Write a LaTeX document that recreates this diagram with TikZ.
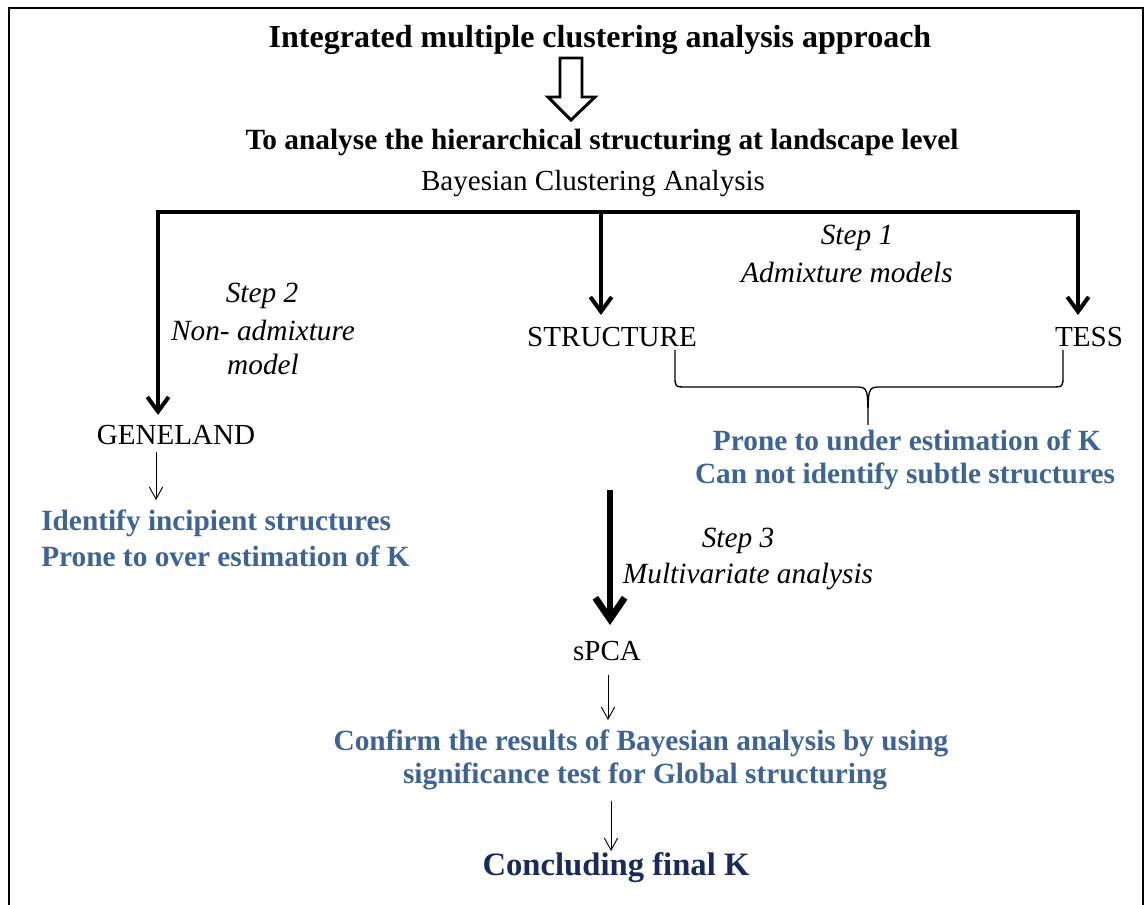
\documentclass[tikz,border=0pt]{standalone}
\usepackage{fontspec}
\setmainfont{Liberation Serif}
\usetikzlibrary{arrows.meta}
\definecolor{stepblue}{HTML}{3E6496}
\definecolor{navyk}{HTML}{1A2A5E}
\begin{document}
\begin{tikzpicture}[x=0.75pt,y=-0.75pt,
  txt/.style={inner sep=0pt, font=\fontsize{21.8}{26}\selectfont},
  boldtxt/.style={inner sep=0pt, font=\fontsize{22}{26}\selectfont\bfseries},
  bluetxt/.style={inner sep=0pt, font=\fontsize{22}{26}\selectfont\bfseries, text=stepblue},
  steptxt/.style={inner sep=0pt, font=\fontsize{22}{26}\selectfont\itshape},
  busline/.style={line width=3pt, {Straight Barb[length=11pt,width=16pt]}-{Straight Barb[length=11pt,width=16pt]}},
  busarrow/.style={line width=3pt, -{Straight Barb[length=11pt,width=16pt]}},
  bigarrow/.style={line width=5pt, -{Straight Barb[length=16pt,width=22pt]}},
  thinarrow/.style={line width=0.7pt, -{Straight Barb[length=9pt,width=10pt]}}
]
\useasboundingbox (0,0) rectangle (1147,905);
% frame (open at the bottom)
\draw[line width=2.2pt] (9,910) -- (9,8) -- (1143,8) -- (1143,910);

% title and hollow arrow
\node[boldtxt, font=\fontsize{24}{28}\selectfont\bfseries] (title) at (600,40) {Integrated multiple clustering analysis approach};
\draw[line width=2.2pt, line join=miter] (560,58) -- (582,58) -- (582,97) -- (595,97) -- (571,120) -- (548,97) -- (560,97) -- cycle;

\node[boldtxt] (aim) at (602,143) {To analyse the hierarchical structuring at landscape level};
\node[txt] (bca) at (593,184) {Bayesian Clustering Analysis};

% bus
\coordinate (bL) at (158,212);
\coordinate (bM) at (601,212);
\coordinate (bR) at (1078,212);
\coordinate (tipL) at (158,415);
\coordinate (tipM) at (601,315);
\coordinate (tipR) at (1078,315);
\draw[busline, line join=miter] (tipL) -- (bL) -- (bR) -- (tipR);
\draw[busarrow] (bM) -- (tipM);

% step labels
\node[steptxt] (s1a) at (857,238) {Step 1};
\node[steptxt] (s1b) at (847,272) {Admixture models};
\node[steptxt] (s2a) at (262,296) {Step 2};
\node[steptxt] (s2b) at (263,330) {Non- admixture};
\node[steptxt] (s2c) at (263,364) {model};

% methods
\node[txt] (structure) at (612,337) {STRUCTURE};
\node[txt] (tess) at (1089,337) {TESS};
\node[txt] (geneland) at (176,435) {GENELAND};

% brace
\draw[line width=1pt] (675,350) -- (675,376) .. controls (675,387) .. (687,387) -- (855,387) .. controls (868,387) .. (868,425) .. controls (868,387) .. (881,387) -- (1051,387) .. controls (1063,387) .. (1063,376) -- (1063,350);

\node[bluetxt] (p1) at (907,440) {Prone to under estimation of K};
\node[bluetxt] (p2) at (905,476) {Can not identify subtle structures};

% geneland outcome
\coordinate (gA) at (156,452);
\coordinate (gB) at (156,500);
\draw[thinarrow] (gA) -- (gB);
\node[bluetxt, anchor=west] (i1) at (41,523) {Identify incipient structures};
\node[bluetxt, anchor=west] (i2) at (41,556) {Prone to over estimation of K};

% step 3
\coordinate (bigA) at (610,490);
\coordinate (bigB) at (610,625);
\draw[bigarrow] (bigA) -- (bigB);
\node[steptxt] (s3a) at (738,541) {Step 3};
\node[steptxt] (s3b) at (748,576) {Multivariate analysis};

\node[txt] (spca) at (607,651) {sPCA};
\coordinate (sA) at (608,675);
\coordinate (sB) at (608,720);
\draw[thinarrow] (sA) -- (sB);

\node[bluetxt] (c1) at (641,743) {Confirm the results of Bayesian analysis by using};
\node[bluetxt] (c2) at (645,776) {significance test for Global structuring};

\coordinate (fA) at (611,801);
\coordinate (fB) at (611,851);
\draw[thinarrow] (fA) -- (fB);
\node[boldtxt, font=\fontsize{24.5}{29}\selectfont\bfseries, text=navyk] (final) at (616,868) {Concluding final K};
\end{tikzpicture}
\end{document}
